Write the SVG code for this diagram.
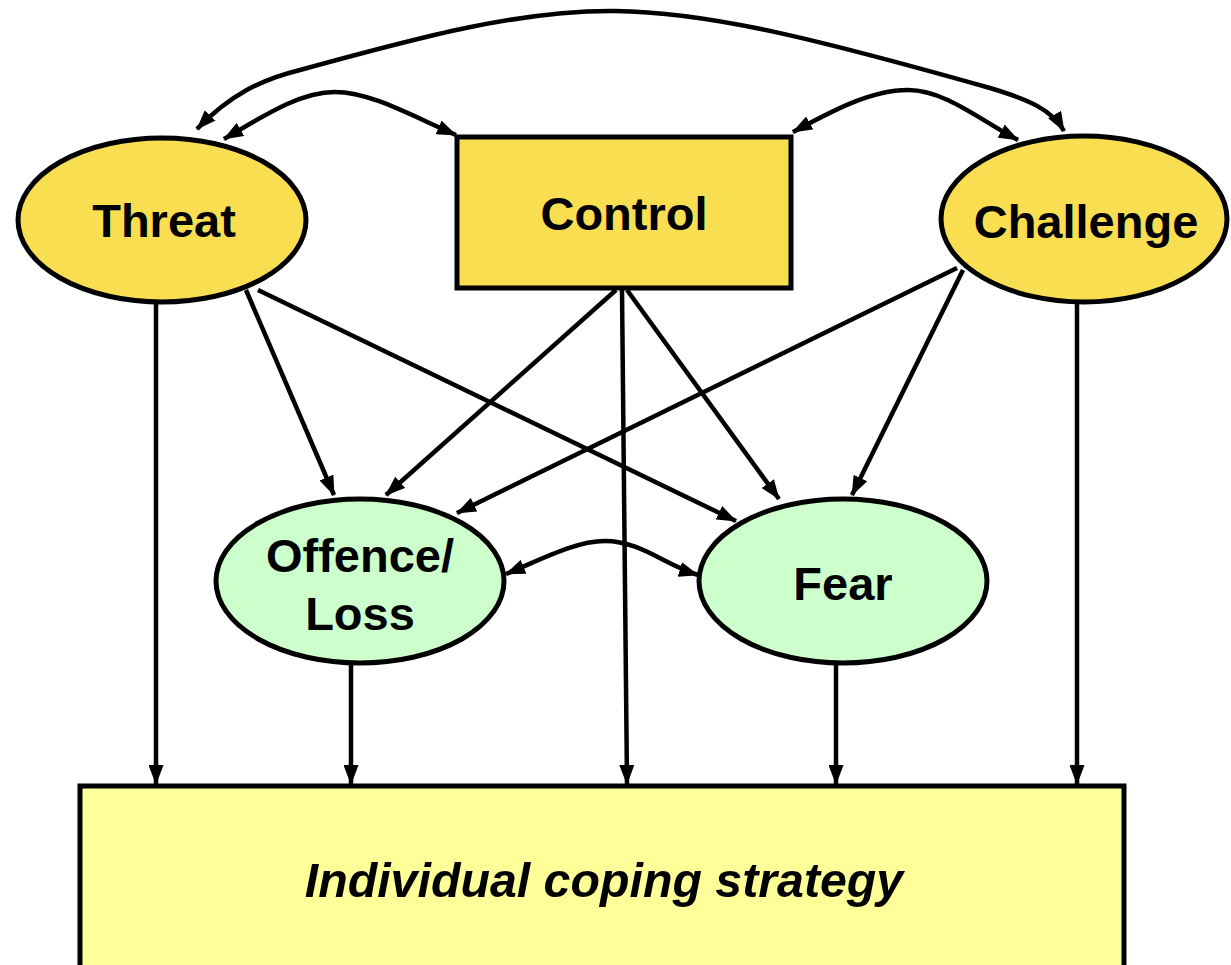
<svg xmlns="http://www.w3.org/2000/svg" width="1231" height="965" viewBox="0 0 1231 965">
<style>
.n{stroke:#000;stroke-width:5}
.y{fill:#F9DE52}
.g{fill:#CCFFCC}
.b{fill:#FFFF99}
.t{font-family:"Liberation Sans",Arial,sans-serif;font-weight:bold;font-size:47px;fill:#000;text-anchor:middle}
.c path{fill:none;stroke:#000;stroke-width:4.5}
</style>
<defs>
<marker id="a" markerUnits="userSpaceOnUse" markerWidth="20" markerHeight="15" refX="19" refY="7.5" orient="auto-start-reverse" viewBox="0 0 20 15">
<path d="M0,0 L20,7.5 L0,15 Z" fill="#000"/>
</marker>
</defs>
<g id="coping"><rect class="n b" x="80" y="786" width="1044" height="200"/>
<text class="t" x="604" y="897" style="font-style:italic;font-size:48.3px">Individual coping strategy</text></g>
<g id="threat"><ellipse class="n y" cx="162" cy="220" rx="144" ry="82"/><text class="t" x="164" y="237">Threat</text></g>
<g id="control"><rect class="n y" x="457" y="137" width="334" height="151"/><text class="t" x="624" y="230">Control</text></g>
<g id="challenge"><ellipse class="n y" cx="1084" cy="219" rx="143" ry="83"/><text class="t" x="1086" y="238">Challenge</text></g>
<g id="offence"><ellipse class="n g" cx="360" cy="581" rx="144" ry="82"/><text class="t" x="360" y="572">Offence/</text><text class="t" x="360" y="630">Loss</text></g>
<g id="fear"><ellipse class="n g" cx="843" cy="581" rx="144" ry="82"/><text class="t" x="843" y="600">Fear</text></g>
<g class="c" id="connectors">
<path d="M156,303 L156,784" marker-end="url(#a)"/>
<path d="M351,665 L351,784" marker-end="url(#a)"/>
<path d="M622,290 L627,784" marker-end="url(#a)"/>
<path d="M836,665 L836,784" marker-end="url(#a)"/>
<path d="M1077,303 L1077,784" marker-end="url(#a)"/>
<path d="M246,290 L334,495" marker-end="url(#a)"/>
<path d="M258,290 L736,521" marker-end="url(#a)"/>
<path d="M616,290 L386,495" marker-end="url(#a)"/>
<path d="M627,290 L779,499" marker-end="url(#a)"/>
<path d="M957,268 L457,513" marker-end="url(#a)"/>
<path d="M963,270 L852,495" marker-end="url(#a)"/>
<path d="M197,129 C230,95 260,80 300,70 C420,37 520,10 615,11 C710,12 820,40 990,88 C1030,100 1052,110 1064,131" marker-start="url(#a)" marker-end="url(#a)"/>
<path d="M224,139 C265,115 300,92 335,92 C370,92 410,115 456,135" marker-start="url(#a)" marker-end="url(#a)"/>
<path d="M793,132 C830,112 870,90 908,90 C945,90 980,120 1018,140" marker-start="url(#a)" marker-end="url(#a)"/>
<path d="M506,574 C540,560 575,541 605,541 C640,541 665,565 698,575" marker-start="url(#a)" marker-end="url(#a)"/>
</g>
</svg>
